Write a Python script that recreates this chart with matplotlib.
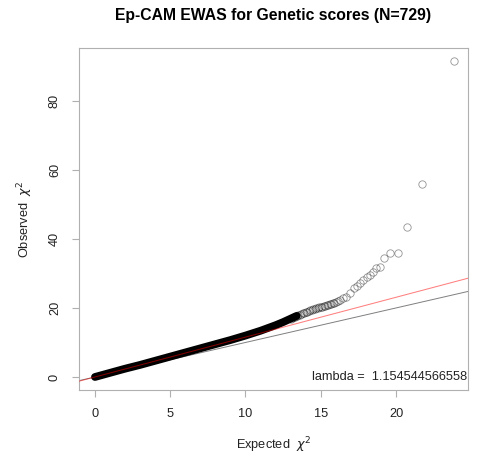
import numpy as np
import matplotlib
matplotlib.use("Agg")
import matplotlib.pyplot as plt

plt.rcParams['font.family'] = ['Liberation Sans', 'DejaVu Sans']

# dense part of the QQ cloud (expected, observed), read along the band centre
band_exp = [0.0, 1.0, 2.0, 3.0, 4.0, 5.0, 6.0, 7.0, 8.0, 9.0, 10.0, 11.0, 12.0, 12.5, 13.0, 13.4]
band_obs = [0.0, 1.2, 2.4, 3.5, 4.7, 5.9, 7.1, 8.3, 9.5, 10.7, 12.0, 13.4, 15.0, 15.9, 16.9, 17.7]

# grey end of the cloud and sparse tail, single circles
tail_exp = [13.0, 13.1, 13.2, 13.3, 13.4, 13.5, 13.6, 13.7, 13.8, 13.9, 14.0, 14.1, 14.2, 14.3,
            14.4, 14.5, 14.6, 14.7, 14.8, 14.9, 15.0, 15.1, 15.2, 15.3, 15.4, 15.5, 15.6, 15.7,
            15.8, 15.9, 16.0, 16.15, 16.3, 16.5, 16.7, 16.95, 17.2, 17.4, 17.6, 17.83, 18.05,
            18.27, 18.45, 18.7, 18.94, 19.2, 19.6, 20.15, 20.7, 21.75, 23.85]
tail_obs = [16.9, 17.1, 17.3, 17.5, 17.7, 17.9, 18.1, 18.3, 18.4, 18.6, 18.8, 18.95, 19.1, 19.3,
            19.45, 19.6, 19.75, 19.9, 20.0, 20.15, 20.3, 20.4, 20.5, 20.6, 20.75, 20.9, 21.05, 21.2,
            21.35, 21.5, 21.7, 22.0, 22.3, 22.8, 23.3, 24.3, 25.7, 26.4, 27.3, 28.1, 28.9,
            29.6, 30.5, 31.5, 32.0, 34.6, 36.0, 36.0, 43.4, 55.85, 91.4]

lam = 1.154544566558
title = "Ep-CAM EWAS for Genetic scores (N=729)"

fig = plt.figure(figsize=(4.78, 4.59), dpi=100)
ax = fig.add_axes([79 / 478, 1 - 390 / 459, (468 - 79) / 478, (390 - 48) / 459])

ax.plot(band_exp, band_obs, color='black', lw=5.6, solid_capstyle='round', zorder=2)
ax.plot(tail_exp, tail_obs, linestyle='none', marker='o', markersize=5.3,
        markerfacecolor='none', markeredgecolor=(0, 0, 0, 0.42), markeredgewidth=0.6, zorder=3)

xs = np.array([-2, 30])
ax.plot(xs, xs, color='#7f7f7f', lw=0.7, zorder=1)
ax.plot(xs, lam * xs, color='red', alpha=0.5, lw=0.75, zorder=4)

ax.set_xlim(-1.06, 24.78)
ax.set_ylim(-3.77, 95.3)
ax.set_xticks([0, 5, 10, 15, 20])
ax.set_yticks([0, 20, 40, 60, 80])
for s in ax.spines.values():
    s.set_color('#b0b0b0')
    s.set_linewidth(0.8)
ax.tick_params(axis='both', colors='#b0b0b0', labelcolor='#222222', length=5, width=0.8,
               labelsize=9.2, pad=8)
for lab in ax.get_yticklabels():
    lab.set_rotation(90)
    lab.set_va('center')

ax.set_xlabel(r"Expected  $\chi^2$", fontsize=9.2, labelpad=11, color='#222222')
ax.set_ylabel(r"Observed  $\chi^2$", fontsize=9.2, labelpad=10, color='#222222')
ax.set_title(title, fontsize=11.3, fontweight='bold', pad=20)

ax.text(24.72, 0, "lambda =  " + str(lam), ha='right', va='center', fontsize=9.2, color='#222222')

fig.savefig("out.png", dpi=100)
